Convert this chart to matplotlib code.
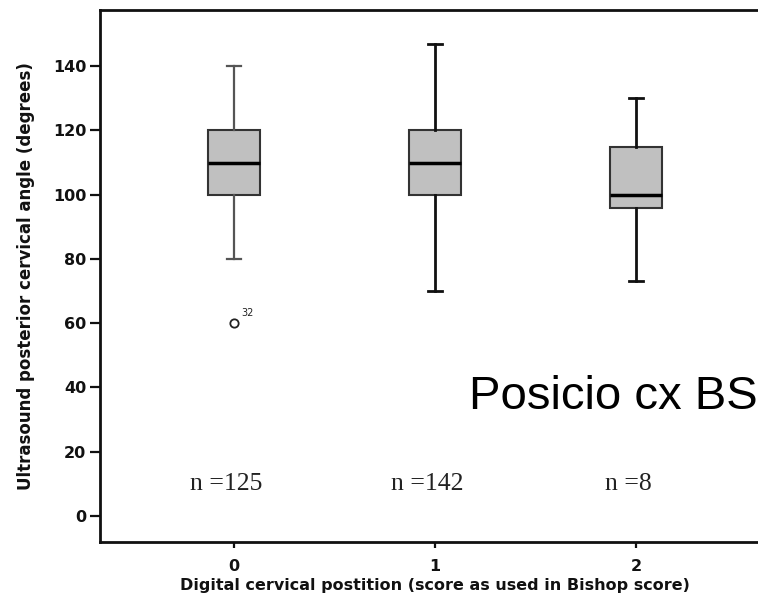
import matplotlib
matplotlib.use("Agg")
import matplotlib.pyplot as plt

categories = ["0", "1", "2"]
whislo = [80, 70, 73]
q1 = [100, 100, 96]
med = [110, 110, 100]
q3 = [120, 120, 115]
whishi = [140, 147, 130]
outliers = [[60], [], []]
outlier_labels = [["32"], [], []]
n_labels = ["n =125", "n =142", "n =8"]
yticks = [0, 20, 40, 60, 80, 100, 120, 140]

fig = plt.figure(figsize=(7.58, 5.99), dpi=100)
ax = fig.add_axes([100/758, 1-542/599, 670/758, 532/599])

stats = []
for i in range(len(categories)):
    stats.append(dict(whislo=whislo[i], q1=q1[i], med=med[i], q3=q3[i],
                      whishi=whishi[i], fliers=outliers[i], label=categories[i]))

positions = list(range(len(categories)))
bp = ax.bxp(stats, positions=positions, widths=0.26, patch_artist=True,
            boxprops=dict(facecolor="#c0c0c0", edgecolor="#333333", linewidth=1.5),
            medianprops=dict(color="black", linewidth=2.5),
            whiskerprops=dict(color="#111111", linewidth=2),
            capprops=dict(color="#111111", linewidth=2),
            capwidths=0.07,
            flierprops=dict(marker="o", markerfacecolor="white", markeredgecolor="#222222",
                            markersize=6, markeredgewidth=1.3))
# first group drawn with lighter whiskers in the reference
for art in bp["whiskers"][0:2] + bp["caps"][0:2]:
    art.set_color("#555555")
    art.set_linewidth(1.6)

for i, (ys, labs) in enumerate(zip(outliers, outlier_labels)):
    for y, lab in zip(ys, labs):
        ax.annotate(lab, (positions[i], y), xytext=(5, 5), textcoords="offset points",
                    fontsize=7, color="#222222")

for i, t in enumerate(n_labels):
    ax.text(positions[i] - 0.04, 10, t, ha="center", va="center",
            family="Liberation Serif", fontsize=18.5, color="#222222")

ax.text(1.17, 33.2, "Posicio cx BS", ha="left", va="baseline",
        family="Liberation Sans", fontsize=34, color="black")

ax.set_xlim(-0.667, 2.667)
ax.set_ylim(-8.1, 157.5)
ax.set_yticks(yticks)
ax.set_xticks(positions)
ax.set_xticklabels(categories)
for s in ["left", "bottom", "top"]:
    ax.spines[s].set_linewidth(2)
    ax.spines[s].set_color("#111111")
ax.spines["right"].set_visible(False)
ax.tick_params(axis="y", direction="out", length=7, width=1.6, labelsize=11.5,
               colors="#111111", pad=3)
ax.tick_params(axis="x", direction="out", length=4, width=1.6, labelsize=11.5,
               colors="#111111", pad=8)
for lab in ax.get_xticklabels() + ax.get_yticklabels():
    lab.set_fontweight("bold")
ax.set_ylabel("Ultrasound posterior cervical angle (degrees)", fontsize=12,
              fontweight="bold", labelpad=13, color="#111111")
ax.set_xlabel("Digital cervical postition (score as used in Bishop score)", fontsize=11.5,
              fontweight="bold", labelpad=3, color="#111111")

fig.savefig("out.png", dpi=100)
